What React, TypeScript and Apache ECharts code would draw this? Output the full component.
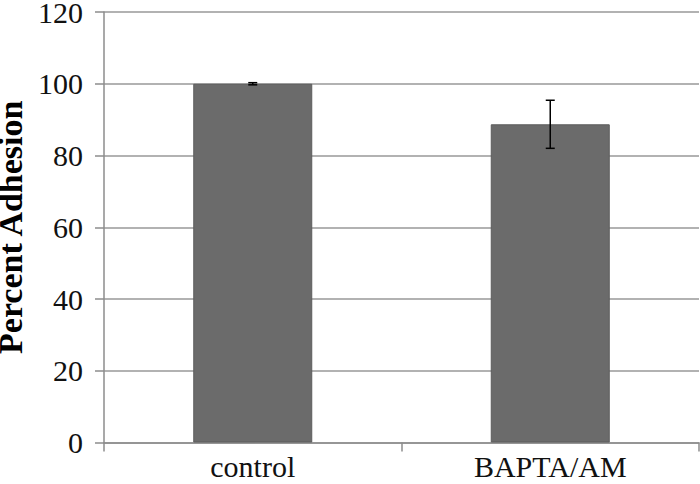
import React, { useEffect, useRef } from "react";
import * as echarts from "echarts";

const categories = ["control", "BAPTA/AM"];
const values = [100, 88.7];
const errors = [0.3, 6.7];
const yTicks = { min: 0, max: 120, interval: 20 };

export default function App() {
  const ref = useRef<HTMLDivElement>(null);
  useEffect(() => {
    const chart = echarts.init(ref.current!, null, { renderer: "svg" });
    const font = "Liberation Serif";
    chart.setOption({
      animation: false,
      textStyle: { fontFamily: font },
      grid: { left: 104, right: 1, top: 12, bottom: 41.5, containLabel: false, outerBoundsMode: "none" },
      xAxis: {
        type: "category",
        data: categories,
        axisLine: { lineStyle: { color: "#8c8c8c", width: 1.5 } },
        axisTick: { show: true, length: 9, lineStyle: { color: "#8c8c8c", width: 1.5 } },
        axisLabel: { color: "#111", fontFamily: font, fontSize: 30, margin: 9 },
      },
      yAxis: {
        type: "value",
        min: yTicks.min,
        max: yTicks.max,
        interval: yTicks.interval,
        name: "Percent Adhesion",
        nameLocation: "middle",
        nameGap: 76,
        nameTextStyle: { color: "#000", fontFamily: font, fontSize: 34, fontWeight: "bold", lineHeight: 26 },
        axisLine: { show: true, lineStyle: { color: "#8c8c8c", width: 1.5 } },
        axisTick: { show: true, length: 9, lineStyle: { color: "#8c8c8c", width: 1.5 } },
        axisLabel: { color: "#111", fontFamily: font, fontSize: 30, margin: 21, lineHeight: 22 },
        splitLine: { show: true, lineStyle: { color: "#999", width: 1.5 } },
      },
      series: [
        {
          type: "bar",
          data: values,
          barWidth: "40%",
          itemStyle: { color: "#6b6b6b", borderColor: "#5c5c5c", borderWidth: 1 },
          z: 2,
        },
        {
          type: "custom",
          data: values.map((v, i) => [i, v - errors[i], v + errors[i]]),
          z: 3,
          renderItem: (params: any, api: any) => {
            const i = api.value(0);
            const lo = api.coord([i, api.value(1)]);
            const hi = api.coord([i, api.value(2)]);
            const x = lo[0];
            const hw = 4.5;
            const style = { stroke: "#000", lineWidth: 1.5 };
            return {
              type: "group",
              children: [
                { type: "line", shape: { x1: x, y1: lo[1], x2: x, y2: hi[1] }, style },
                { type: "line", shape: { x1: x - hw, y1: lo[1], x2: x + hw, y2: lo[1] }, style },
                { type: "line", shape: { x1: x - hw, y1: hi[1], x2: x + hw, y2: hi[1] }, style },
              ],
            };
          },
        },
      ],
    });
    return () => chart.dispose();
  }, []);
  return <div ref={ref} style={{ width: 700, height: 484, position: "absolute", left: 0, top: 0 }} />;
}
